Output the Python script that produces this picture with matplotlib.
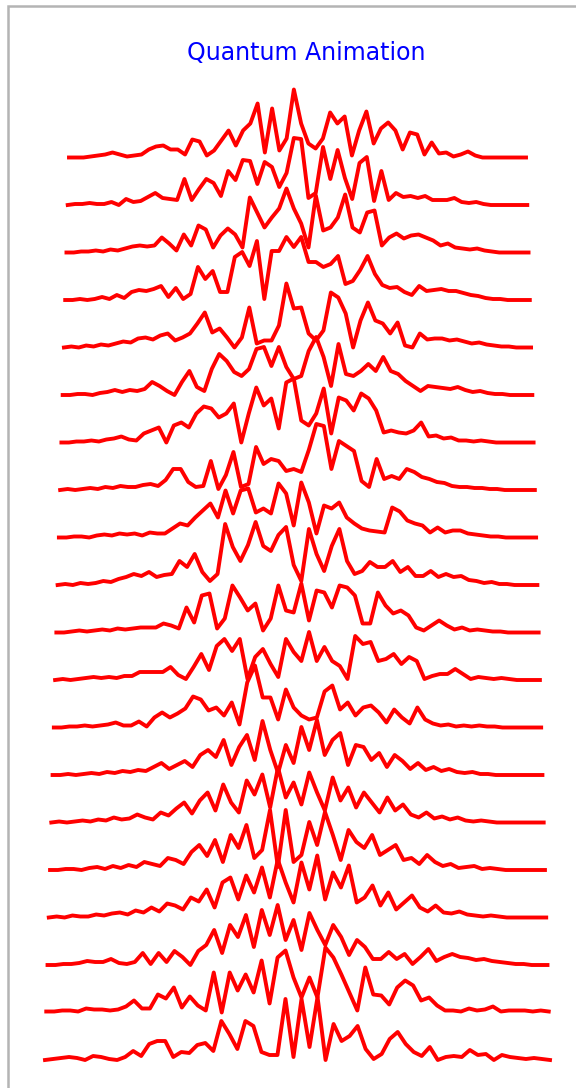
import matplotlib
matplotlib.use("Agg")
import matplotlib.pyplot as plt
import matplotlib.patches as patches
import numpy as np

# heights of each trace above its own baseline (picture pixels, 47.5 px = one row)
# listed top trace first, 64 samples per trace
row01 = [0,0,0,1,2,3,5,3,1,2, 3,8,11,12,8,8,3,18,16,2, 7,17,27,12,27,34,54,5,49,7,
         19,68,34,14,9,19,45,34,41,2, 27,46,14,29,35,27,8,25,23,3, 15,4,5,1,3,6,2,0,0,0, 0,0,0,0]
row02 = [0,1,1,2,1,1,3,0,6,3, 4,8,12,7,6,5,26,5,16,26, 22,9,34,25,45,44,21,43,38,18,
         32,67,66,7,12,58,26,55,27,6, 42,48,4,34,5,12,8,9,7,9, 5,5,5,7,3,2,3,1,0,0, 0,0,0,0]
row03 = [0,0,1,1,2,1,3,2,4,6, 7,6,7,15,9,2,18,7,27,23, 5,17,24,18,5,55,40,25,35,44,
         64,44,29,5,57,22,25,35,58,25, 20,40,42,7,15,19,14,17,18,15, 12,7,9,5,4,3,4,2,1,0, 0,0,0,0]
row04 = [0,0,1,0,1,3,1,5,2,8, 10,9,11,14,3,12,1,6,33,21, 29,8,8,43,48,34,59,1,49,49,
         63,53,63,38,38,33,36,44,16,19, 30,44,26,15,12,13,8,5,14,9, 10,11,9,9,7,5,4,2,1,1, 0,0,0,0]
row05 = [0,1,0,2,1,3,2,4,6,5, 9,10,8,12,14,7,10,14,24,35, 15,19,10,0,10,40,4,7,7,22,
         64,39,40,14,7,17,55,50,34,0, 27,45,27,24,14,25,2,0,14,8, 9,9,7,8,6,4,5,3,2,1, 1,0,0,0]
row06 = [0,0,1,1,0,2,3,5,3,5, 4,6,13,9,4,0,13,24,8,4, 26,41,34,23,19,26,46,48,29,48,
         28,16,19,44,58,38,9,51,21,19, 24,31,24,38,24,21,14,9,4,9, 8,7,6,8,5,3,4,2,1,1, 0,0,0,0]
row07 = [0,0,1,1,2,1,3,4,6,3, 2,9,12,15,0,17,20,15,29,36, 34,25,29,39,0,29,55,37,44,14,
         60,64,22,17,29,54,9,45,42,32, 49,44,32,10,12,10,9,12,20,6, 7,4,5,2,2,1,2,1,0,0, 0,0,0,0]
row08 = [0,1,0,1,2,1,3,2,4,3, 3,5,6,4,10,21,21,8,3,4, 29,1,15,38,3,6,43,26,31,29,
         19,21,18,40,66,64,21,49,44,39, 9,3,31,11,14,11,21,18,13,11, 8,7,4,3,3,2,2,1,1,0, 0,0,0,0]
row09 = [0,0,1,1,0,2,3,2,4,3, 4,2,5,4,4,9,14,12,20,27, 34,20,47,24,47,49,25,29,24,54,
         44,12,55,35,4,32,29,35,20,14, 9,7,6,5,30,26,17,14,12,5, 10,5,7,7,4,3,2,1,1,0, 0,0,0,0]
row10 = [0,1,0,2,1,2,4,3,6,8, 11,9,13,8,10,11,24,18,31,13, 4,11,61,38,24,40,63,39,34,50,
         58,20,4,56,31,14,39,56,24,11, 14,23,18,18,24,13,18,9,9,14, 8,11,8,9,5,4,2,3,1,1, 0,0,0,0]
row11 = [0,0,1,2,1,2,3,2,4,3, 4,5,5,5,9,7,4,25,10,37, 39,4,14,47,35,22,29,2,14,47,
         22,20,49,12,42,40,25,47,45,37, 9,9,40,27,19,22,17,5,2,7, 12,7,3,5,2,3,2,1,1,0, 0,0,0,0]
row12 = [0,1,0,1,2,3,2,3,2,4, 4,8,8,8,8,13,5,1,13,26, 10,34,41,29,41,1,23,31,16,3,
         41,28,19,48,19,33,19,14,1,44, 36,38,19,21,26,16,23,19,1,4, 6,6,11,6,1,3,2,1,2,1, 0,0,0,0]
row13 = [0,0,1,1,2,1,2,3,5,2, 2,6,1,10,15,10,14,19,31,28, 17,20,12,25,3,45,62,30,30,8,
         38,20,12,8,10,36,42,18,25,12, 20,22,15,5,18,10,4,20,8,4, 2,3,1,2,1,2,1,1,0,0, 0,0,0,0]
row14 = [0,0,1,0,1,2,1,3,2,4, 3,5,4,8,12,6,10,14,8,20, 25,18,35,10,28,40,15,54,25,2,
         30,12,48,25,55,20,35,42,10,30, 28,15,22,8,20,14,6,12,5,8, 4,6,3,2,3,1,1,0,0,0, 0,0,0,0]
row15 = [0,1,0,1,2,1,3,2,5,3, 4,8,5,3,10,7,14,20,9,22, 30,12,38,20,10,42,28,48,15,55,
         25,40,18,50,30,12,45,22,35,15, 30,20,10,25,12,18,8,5,10,4, 6,3,5,2,1,2,1,0,0,0, 0,0,0,0]
row16 = [0,0,1,1,0,2,3,1,4,2, 5,3,8,6,4,12,10,6,18,25, 14,30,8,35,22,45,12,20,60,3,
         60,8,15,48,25,58,35,10,40,28, 22,35,15,20,25,10,12,6,15,8, 4,6,2,3,4,1,2,1,0,0, 0,0,0,0]
row17 = [0,1,0,2,1,1,3,2,4,5, 3,7,5,10,6,14,12,8,20,16, 28,10,35,40,18,42,25,50,20,58,
         35,15,55,28,62,18,45,30,52,15, 20,32,12,25,8,15,22,10,6,12, 5,4,6,3,2,1,2,1,0,0, 0,0,0,0]
row18 = [0,0,1,1,2,4,3,3,6,2, 1,3,12,1,12,3,14,8,0,14, 20,35,12,40,28,50,18,55,30,60,
         25,45,15,52,35,20,40,28,10,25, 18,6,6,13,6,11,1,8,16,4, 8,11,8,7,5,6,4,3,2,1, 1,0,0,0]
row19 = [1,1,2,2,1,4,3,3,2,3, 6,12,4,4,18,14,25,5,16,7, 2,40,0,40,22,38,20,52,9,55,
         62,35,15,35,15,65,55,38,20,2, 45,18,17,8,25,32,27,12,15,7, 2,2,1,4,2,3,6,1,2,2, 2,1,2,1]
row20 = [0,1,2,3,2,0,4,3,1,0, 3,9,4,16,19,19,3,8,7,15, 17,9,39,26,11,39,34,8,5,5,
         61,3,61,13,63,0,36,19,24,34, 11,1,6,21,28,16,8,4,13,0, 3,4,3,10,5,6,0,5,3,2, 1,2,1,0]

rows = [row01, row02, row03, row04, row05, row06, row07, row08, row09, row10,
        row11, row12, row13, row14, row15, row16, row17, row18, row19, row20]
row_px = 47.5
title = "Quantum Animation"


def main():
    fig = plt.figure(figsize=(5.76, 10.88), dpi=100, facecolor="white")
    ax = fig.add_axes([0, 0, 1, 1])

    X = np.linspace(-1, 1, len(row01))
    # bottom trace is i = 0, each one above is a bit narrower
    for i, vals in enumerate(rows[::-1]):
        xscale = 1 - i / 200.0
        ax.plot(xscale * X, i + np.array(vals) / row_px, color="red", lw=2.8)

    ax.set_xlim(-297.5 / 252.5, (576 - 297.5) / 252.5)
    ax.set_ylim((1060 - 1088) / row_px, 1060 / row_px)
    ax.axis("off")

    fig.text(306 / 576, 1 - 60 / 1088, title, color="blue", fontsize=17,
             ha="center", va="baseline")

    # grey frame of the screenshot (only left and top edges are inside the picture)
    frame = patches.Rectangle((7.5 / 576, -0.1), 1.5, 1.1 - 5.5 / 1088, fill=False,
                              edgecolor="#b4b4b4", lw=1.8, transform=fig.transFigure)
    fig.add_artist(frame)

    fig.savefig("out.png", dpi=100)


if __name__ == "__main__":
    main()
